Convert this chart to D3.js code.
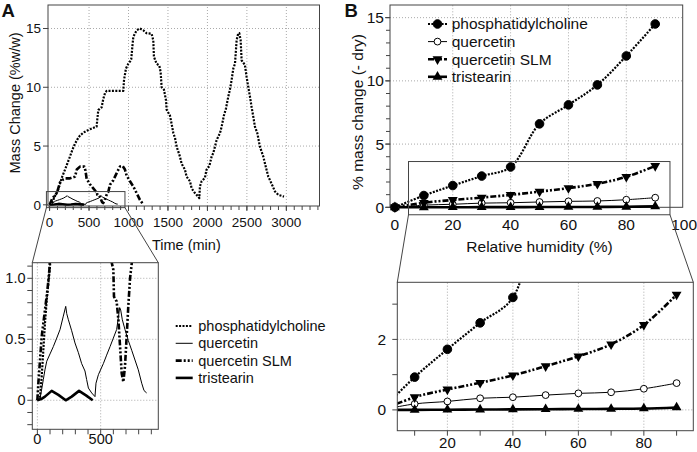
<!DOCTYPE html>
<html><head><meta charset="utf-8">
<script src="https://cdn.jsdelivr.net/npm/d3@7"></script>
<style>
body{margin:0;background:#fff}
text{font-family:"Liberation Sans",Arial,Helvetica,sans-serif;fill:#111}
</style>
</head><body>
<svg id="c" width="697" height="452"></svg>
<script>
// ---------------- DATA ----------------
const seriesNames = ["phosphatidylcholine", "quercetin", "quercetin SLM", "tristearin"];

// Panel A : mass change (%w/w) vs time (min)
const timePC = [0,21,34,47,60,74,87,100,132,160,196,230,258,290,322,355,386,430,470,520,575,596,605,617,638,660,680,702,723,934,943,968,998,1020,1035,1048,1061,1103,1145,1187,1229,1293,1314,1322,1356,1390,1407,1420,1449,1475,1483,1525,1546,1568,1589,1610,1652,1673,1715,1736,1779,1800,1842,1884,1897,1905,1926,1968,1989,2024,2053,2074,2095,2116,2159,2180,2209,2235,2264,2285,2306,2328,2349,2370,2391,2404,2421,2433,2475,2496,2518,2539,2560,2581,2602,2632,2665,2708,2737,2771,2813,2856,2898,2970];
const massPC = [0,0.03,0.19,0.41,0.63,0.82,0.96,1.1,1.8,2.4,3.0,3.6,4.1,4.7,5.2,5.6,5.9,6.15,6.3,6.45,6.6,6.65,7.3,8.05,8.2,8.3,9.0,9.5,9.7,9.7,10.6,11.6,12.0,12.2,12.4,13.4,14.3,14.85,15.0,14.85,14.6,14.55,14.0,12.6,12.0,11.85,11.3,10.0,9.8,8.9,8.1,7.6,6.9,6.1,5.7,4.95,4.1,3.5,3.0,2.4,2.0,1.4,1.0,0.7,0.57,1.56,2.0,2.3,3.0,3.3,4.1,4.4,4.95,5.5,6.1,6.65,7.6,8.2,9.2,9.8,10.6,11.6,12.0,14.0,14.6,14.6,14.0,12.3,11.9,10.9,10.0,9.2,8.3,7.5,6.65,6.1,4.95,4.1,3.3,2.4,1.8,1.13,0.85,0.7];

const timeQ = [0,20,34,47,60,74,100,126,153,179,205,224,232,245,271,297,324,350,376,389,403,429,455,463,482,521,547,574,600,626,640,650,658,671,692,718,745,771,797,824,842,863];
const massQ = [0,0.01,0.09,0.17,0.25,0.32,0.38,0.44,0.51,0.58,0.69,0.77,0.71,0.66,0.57,0.47,0.39,0.3,0.24,0.17,0.1,0.06,0.03,0.14,0.21,0.3,0.37,0.44,0.51,0.58,0.68,0.76,0.74,0.66,0.58,0.49,0.41,0.33,0.25,0.14,0.08,0.06];

const timeSLM = [0,8,21,34,47,60,79,95,132,170,200,258,300,322,345,385,440,455,470,512,554,587,600,605,626,640,653,666,679,692,705,718,732,745,765,808,850,892,926,955,976,1019,1061,1103,1145,1179];
const massSLM = [0,0.14,0.33,0.52,0.63,0.74,0.9,1.07,1.9,2.15,2.25,2.25,2.35,2.4,3.0,3.25,3.25,2.9,2.2,1.75,1.4,1.13,1.07,0.85,0.81,0.66,0.44,0.22,0.15,0.28,0.52,0.77,1.0,1.12,1.7,2.1,2.7,3.26,3.3,3.0,2.5,2.0,1.56,1.0,0.42,0.1];

const timeTS = [0,30,60,113,166,224,271,329,384,437];
const massTS = [0,0.01,0.03,0.077,0.044,0.0,0.03,0.077,0.04,0.0];

// Panel B : % mass change (- dry) vs relative humidity (%)
const rh = [0,10,20,30,40,50,60,70,80,90];
const pcB = [0,0.93,1.72,2.47,3.19,6.6,8.1,9.68,11.97,14.5];
const qB = [0,0.17,0.24,0.33,0.36,0.42,0.47,0.5,0.6,0.76];
const slmB = [0,0.36,0.58,0.77,0.98,1.24,1.52,1.86,2.41,3.27];
const tsB = [0,0,0.005,0.01,0.015,0.02,0.025,0.03,0.04,0.07];

// tick labels
const ticksAx = [0,500,1000,1500,2000,2500,3000];
const ticksAy = [0,5,10,15];
const ticksAix = [0,500];
const ticksAiy = [0,0.5,1.0];
const ticksBx = [0,20,40,60,80,100];
const ticksBy = [0,5,10,15];
const ticksBix = [20,40,60,80];
const ticksBiy = [0,2];

// ---------------- STYLES ----------------
const styles = [
  {w:2.2, dash:"2,1.4", marker:"circle", fill:"#000"},
  {w:1, dash:null, marker:"circle", fill:"#fff"},
  {w:2.6, dash:"6,2,2,2,2,2", marker:"down", fill:"#000"},
  {w:2.6, dash:null, marker:"up", fill:"#000"}
];
const boxCol = "#444", gridCol = "#aaa";
const FONT_A = 13.5, FONT_B = 15.5;

const svg = d3.select("#c");
const defs = svg.append("defs");
function clip(id, x0, y0, x1, y1) {
  defs.append("clipPath").attr("id", id).append("rect")
    .attr("x", x0).attr("y", y0).attr("width", x1 - x0).attr("height", y1 - y0);
}
function grid(g, xs, ys, xScale, yScale) {
  const [x0, x1] = xScale.range(), [y0, y1] = yScale.range();
  xs.forEach(v => g.append("line").attr("x1", xScale(v)).attr("x2", xScale(v)).attr("y1", y0).attr("y2", y1)
    .attr("stroke", gridCol).attr("stroke-width", 1).attr("stroke-dasharray", "1,2"));
  ys.forEach(v => g.append("line").attr("x1", x0).attr("x2", x1).attr("y1", yScale(v)).attr("y2", yScale(v))
    .attr("stroke", gridCol).attr("stroke-width", 1).attr("stroke-dasharray", "1,2"));
}
function frame(g, xScale, yScale) {
  const [x0, x1] = xScale.range(), [y0, y1] = yScale.range();
  g.append("rect").attr("x", x0).attr("y", y1).attr("width", x1 - x0).attr("height", y0 - y1)
    .attr("fill", "none").attr("stroke", boxCol).attr("stroke-width", 1);
}
function xTicks(g, xScale, yPix, vals, len) {
  vals.forEach(v => g.append("line").attr("x1", xScale(v)).attr("x2", xScale(v)).attr("y1", yPix).attr("y2", yPix + len)
    .attr("stroke", boxCol).attr("stroke-width", 1));
}
function yTicks(g, yScale, xPix, vals, len) {
  vals.forEach(v => g.append("line").attr("x1", xPix - len).attr("x2", xPix).attr("y1", yScale(v)).attr("y2", yScale(v))
    .attr("stroke", boxCol).attr("stroke-width", 1));
}
function xLabels(g, xScale, y, vals, fs, fmt) {
  vals.forEach(v => g.append("text").attr("x", xScale(v)).attr("y", y).attr("text-anchor", "middle")
    .attr("font-size", fs).text(fmt ? fmt(v) : v));
}
function yLabels(g, yScale, x, vals, fs, fmt) {
  vals.forEach(v => g.append("text").attr("x", x).attr("y", yScale(v)).attr("dy", "0.35em").attr("text-anchor", "end")
    .attr("font-size", fs).text(fmt ? fmt(v) : v));
}
function styledPath(g, d, s) {
  const p = g.append("path").attr("d", d).attr("fill", "none").attr("stroke", "#000")
    .attr("stroke-width", s.w).attr("stroke-linejoin", "round");
  if (s.dash) p.attr("stroke-dasharray", s.dash);
  return p;
}
function marker(g, x, y, s) {
  if (s.marker === "circle") {
    const r = s.fill === "#000" ? 4.3 : 3.4;
    g.append("circle").attr("cx", x).attr("cy", y).attr("r", r).attr("fill", s.fill).attr("stroke", "#000").attr("stroke-width", 1);
  } else {
    const sym = d3.symbol().type(d3.symbolTriangle).size(42);
    g.append("path").attr("d", sym()).attr("transform", `translate(${x},${y})` + (s.marker === "down" ? " rotate(180)" : ""))
      .attr("fill", "#000");
  }
}

// ---------------- PANEL A ----------------
const seriesA = [
  timePC.map((t, i) => [t, massPC[i]]),
  timeQ.map((t, i) => [t, massQ[i]]),
  timeSLM.map((t, i) => [t, massSLM[i]]),
  timeTS.map((t, i) => [t, massTS[i]])
];
const drawOrderA = [1, 3, 2, 0];

const xA = d3.scaleLinear().domain([-20, 3420]).range([48, 319.5]);
const yA = d3.scaleLinear().domain([-0.1, 17]).range([206, 5]);
const gA = svg.append("g");
grid(gA, [500,1000,1500,2000,2500,3000], [5,10,15], xA, yA);
clip("clipA", 48, 5, 319.5, 206);
const gAd = gA.append("g").attr("clip-path", "url(#clipA)");
drawOrderA.forEach(i => {
  const line = d3.line().x(d => xA(d[0])).y(d => yA(d[1]));
  styledPath(gAd, line(seriesA[i]), styles[i]);
});
frame(gA, xA, yA);
xTicks(gA, xA, 206, d3.range(0, 3401, 100), 4);
xTicks(gA, xA, 206, ticksAx, 5);
yTicks(gA, yA, 48, ticksAy, 5);
xLabels(gA, xA, 227, ticksAx, FONT_A);
yLabels(gA, yA, 41, ticksAy, FONT_A);
gA.append("text").attr("x", 152).attr("y", 250).attr("font-size", 14.5).text("Time (min)");
gA.append("text").attr("transform", "translate(20,103) rotate(-90)").attr("text-anchor", "middle")
  .attr("font-size", 14.5).text("Mass Change (%w/w)");
svg.append("text").attr("x", 1.5).attr("y", 17).attr("font-size", 18.5).attr("font-weight", "bold").text("A");

// inset A
const xAi = d3.scaleLinear().domain([-40, 955]).range([32.3, 158.3]);
const yAi = d3.scaleLinear().domain([-0.238, 1.128]).range([429.3, 262.7]);
// zoom rectangle on main A
gA.append("rect").attr("x", xA(-40)).attr("y", yA(1.128)).attr("width", xA(955) - xA(-40)).attr("height", yA(-0.238) - yA(1.128))
  .attr("fill", "none").attr("stroke", boxCol).attr("stroke-width", 1);
gA.append("line").attr("x1", xA(-40)).attr("y1", yA(-0.238)).attr("x2", xAi(-40)).attr("y2", yAi(1.128)).attr("stroke", boxCol);
gA.append("line").attr("x1", xA(955)).attr("y1", yA(-0.238)).attr("x2", xAi(955)).attr("y2", yAi(1.128)).attr("stroke", boxCol);

const gAi = svg.append("g");
grid(gAi, [0,500], [0,0.5,1.0], xAi, yAi);
clip("clipAi", 32.3, 262.7, 158.3, 429.3);
const gAid = gAi.append("g").attr("clip-path", "url(#clipAi)");
drawOrderA.forEach(i => {
  const line = d3.line().x(d => xAi(d[0])).y(d => yAi(d[1]));
  styledPath(gAid, line(seriesA[i]), styles[i]);
});
frame(gAi, xAi, yAi);
xTicks(gAi, xAi, 429.3, d3.range(0, 901, 100), 5);
yTicks(gAi, yAi, 32.3, d3.range(-2, 12).map(v => v / 10), 5);
xLabels(gAi, xAi, 444, ticksAix, FONT_A + 1);
yLabels(gAi, yAi, 25.5, ticksAiy, FONT_A + 1, v => v === 0 ? "0" : d3.format(".1f")(v));

// legend A
const legA = svg.append("g");
seriesNames.forEach((n, i) => {
  const y = 326 + i * 17.3;
  styledPath(legA, `M175.7,${y}L192.7,${y}`, styles[i]);
  legA.append("text").attr("x", 198.3).attr("y", y).attr("dy", "0.35em").attr("font-size", 14.5).text(n);
});

// ---------------- PANEL B ----------------
const seriesB = [pcB, qB, slmB, tsB].map(arr => rh.map((x, i) => [x, arr[i]]));
const xB = d3.scaleLinear().domain([-1.7, 99.5]).range([390, 682.7]);
const yB = d3.scaleLinear().domain([0, 16]).range([207.3, 5]);
const gB = svg.append("g");
grid(gB, [20,40,60,80], [5,10,15], xB, yB);
frame(gB, xB, yB);
yTicks(gB, yB, 390, d3.range(0, 16), 4);
yTicks(gB, yB, 390, ticksBy, 5);
xLabels(gB, xB, 230, ticksBx, FONT_B);
yLabels(gB, yB, 384, ticksBy, FONT_B);
const order = [0, 1, 2, 3];
order.forEach(i => {
  const line = d3.line().x(d => xB(d[0])).y(d => yB(d[1])).curve(d3.curveCatmullRom);
  styledPath(gB, line(seriesB[i]), styles[i]);
});
order.forEach(i => seriesB[i].forEach(d => marker(gB, xB(d[0]), yB(d[1]), styles[i])));
gB.append("text").attr("x", xB(50)).attr("y", 252).attr("text-anchor", "middle").attr("font-size", FONT_B).text("Relative humidity (%)");
gB.append("text").attr("transform", "translate(363,112) rotate(-90)").attr("text-anchor", "middle")
  .attr("font-size", FONT_B).text("% mass change (- dry)");
svg.append("text").attr("x", 344.5).attr("y", 17).attr("font-size", 18.5).attr("font-weight", "bold").text("B");

// legend B
const legB = svg.append("g");
seriesNames.forEach((n, i) => {
  const y = 24 + i * 17.6;
  styledPath(legB, `M428,${y}L447,${y}`, styles[i]);
  marker(legB, 437.5, y, styles[i]);
  legB.append("text").attr("x", 451.7).attr("y", y).attr("dy", "0.35em").attr("font-size", FONT_B).text(n);
});

// inset B
const xBi = d3.scaleLinear().domain([4.7, 95.1]).range([397.3, 693.3]);
const yBi = d3.scaleLinear().domain([-0.59, 3.62]).range([430.7, 282.3]);
gB.append("rect").attr("x", xB(4.7)).attr("y", yB(3.62)).attr("width", xB(95.1) - xB(4.7)).attr("height", yB(-0.59) - yB(3.62))
  .attr("fill", "none").attr("stroke", boxCol).attr("stroke-width", 1);
gB.append("line").attr("x1", xB(4.7)).attr("y1", yB(-0.59)).attr("x2", xBi(4.7)).attr("y2", yBi(3.62)).attr("stroke", boxCol);
gB.append("line").attr("x1", xB(95.1)).attr("y1", yB(-0.59)).attr("x2", xBi(95.1)).attr("y2", yBi(3.62)).attr("stroke", boxCol);

const gBi = svg.append("g");
grid(gBi, [20,40,60,80], [0,2], xBi, yBi);
clip("clipBi", 397.3, 282.3, 693.3, 430.7);
const gBid = gBi.append("g").attr("clip-path", "url(#clipBi)");
order.forEach(i => {
  const line = d3.line().x(d => xBi(d[0])).y(d => yBi(d[1])).curve(d3.curveCatmullRom);
  styledPath(gBid, line(seriesB[i]), styles[i]);
});
order.forEach(i => seriesB[i].forEach(d => marker(gBid, xBi(d[0]), yBi(d[1]), styles[i])));
frame(gBi, xBi, yBi);
xTicks(gBi, xBi, 430.7, d3.range(10, 91, 10), 5);
yTicks(gBi, yBi, 397.3, [0,1,2,3], 5);
xLabels(gBi, xBi, 448, ticksBix, 15);
yLabels(gBi, yBi, 386, ticksBiy, FONT_B);
</script>
</body></html>
